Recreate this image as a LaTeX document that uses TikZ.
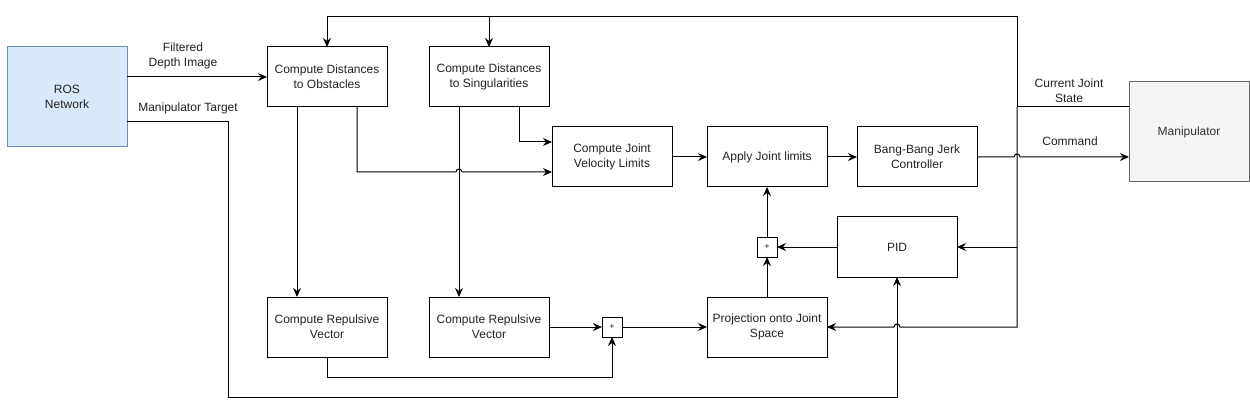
\documentclass[tikz,border=0pt]{standalone}
\usepackage{fontspec}
\setmainfont{Liberation Sans}
\usetikzlibrary{arrows.meta}
\definecolor{rosfill}{HTML}{DAE8FC}
\definecolor{rosdraw}{HTML}{6C8EBF}
\definecolor{manfill}{HTML}{F5F5F5}
\definecolor{mandraw}{HTML}{666666}
\definecolor{txt}{HTML}{222222}
\tikzset{
  blk/.style={draw=black, line width=1pt, minimum width=120pt, minimum height=60pt, inner sep=0pt, outer sep=0pt, align=center, text=txt, font=\fontsize{12}{15}\selectfont},
  bigblk/.style={blk, minimum height=100pt},
  sumblk/.style={draw=black, line width=1pt, minimum width=20pt, minimum height=20pt, inner sep=0pt, outer sep=0pt, font=\fontsize{9}{10}\selectfont, text=txt},
  lbl/.style={align=center, text=txt, font=\fontsize{12}{15}\selectfont, inner sep=0pt},
  con/.style={line width=1pt, draw=black},
  arr/.style={con, -{Stealth[length=9pt,width=8pt,inset=3pt]}},
}
\begin{document}
\begin{tikzpicture}[x=1pt,y=-1pt]
\useasboundingbox (0,0) rectangle (1250,406);
% nodes
\node[bigblk, fill=rosfill, draw=rosdraw] (ros) at (67,97) {ROS\\Network};
\node[blk] (obs) at (327,77) {Compute Distances\\to Obstacles};
\node[blk] (sing) at (489,77) {Compute Distances\\to Singularities};
\node[blk] (vel) at (612,157) {Compute Joint\\Velocity Limits};
\node[blk] (apply) at (767,157) {Apply Joint limits};
\node[blk] (bang) at (917,157) {Bang-Bang Jerk\\Controller};
\node[bigblk, fill=manfill, draw=mandraw, text=black!80] (manip) at (1189,132) {Manipulator};
\node[blk] (pid) at (897,247) {PID};
\node[blk] (rep1) at (327,327) {Compute Repulsive\\Vector};
\node[blk] (rep2) at (489,327) {Compute Repulsive\\Vector};
\node[blk] (proj) at (767,327) {Projection onto Joint\\Space};
\node[sumblk] (sum1) at (612,327) {+};
\node[sumblk] (sum2) at (767,247) {+};
% labels
\node[lbl] (l1) at (183,56) {Filtered\\Depth Image};
\node[lbl] (l2) at (188,108) {Manipulator Target};
\node[lbl] (l3) at (1069,91) {Current Joint\\State};
\node[lbl] (l4) at (1070,141) {Command};
\coordinate (fb) at (1017,107);
% connectors
\draw[arr] (ros.east |- obs.west) -- (obs.west);
\draw[arr] ([yshift=-25pt]ros.east) -- ++(101,0) -- ++(0,275) -- (pid.south |- 0,397) -- (pid.south);
\draw[con] ([yshift=25pt]manip.west) -- (fb);
\draw[arr] (fb) -- (fb |- 0,17) -- (obs.north |- 0,17) -- (obs.north);
\draw[arr] (sing.north |- 0,17) -- (sing.north);
\draw[arr] (fb) -- (fb |- 0,327) -- (900,327) arc[start angle=0,end angle=180,radius=3pt] -- (proj.east);
\draw[arr] (fb |- pid.east) -- (pid.east);
\draw[arr] (bang.east) -- (1014,157) arc[start angle=180,end angle=0,radius=3pt] -- ([yshift=-25pt]manip.west);
\draw[arr] ([xshift=-30pt]obs.south) -- ([xshift=-30pt]rep1.north);
\draw[arr] ([xshift=30pt]obs.south) |- (456,172) arc[start angle=180,end angle=0,radius=3pt] -- ([yshift=-15pt]vel.west);
\draw[arr] ([xshift=-30pt]sing.south) -- ([xshift=-30pt]rep2.north);
\draw[arr] ([xshift=30pt]sing.south) |- ([yshift=15pt]vel.west);
\draw[arr] (vel.east) -- (apply.west);
\draw[arr] (apply.east) -- (bang.west);
\draw[arr] (pid.west) -- (sum2.east);
\draw[arr] (proj.north) -- (sum2.south);
\draw[arr] (sum2.north) -- (apply.south);
\draw[arr] (rep2.east) -- (sum1.west);
\draw[arr] (rep1.south) -- ++(0,20) -| (sum1.south);
\draw[arr] (sum1.east) -- (proj.west);
\end{tikzpicture}
\end{document}
